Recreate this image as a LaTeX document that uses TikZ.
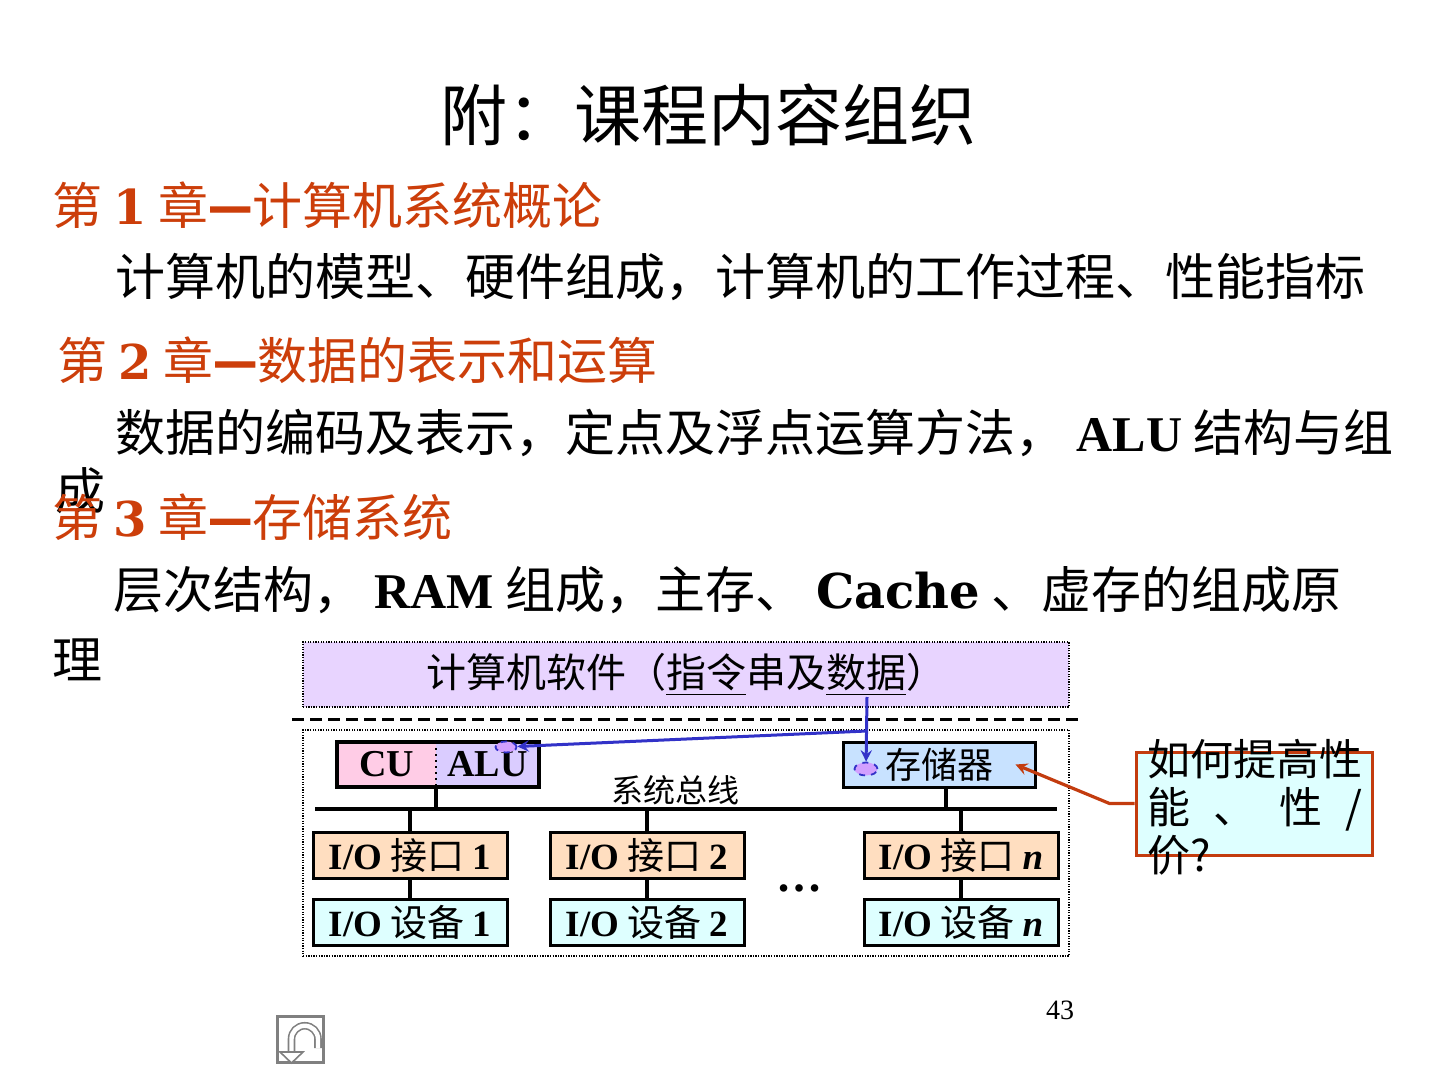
\documentclass[tikz,border=0pt]{standalone}
\usepackage{fontspec}
\setmainfont{Noto Sans CJK SC}
\newfontfamily\lat{Liberation Serif}
\newfontfamily\djv{DejaVu Serif}
\usetikzlibrary{positioning, shapes.geometric, arrows}
\definecolor{chapred}{RGB}{204,62,10}
\definecolor{swfill}{RGB}{232,212,255}
\definecolor{cufill}{RGB}{255,204,230}
\definecolor{alufill}{RGB}{218,204,255}
\definecolor{memfill}{RGB}{200,226,255}
\definecolor{iofill}{RGB}{255,222,192}
\definecolor{devfill}{RGB}{222,255,255}
\definecolor{flowblue}{RGB}{50,50,200}
\definecolor{dotfill}{RGB}{210,160,255}
\definecolor{askred}{RGB}{195,60,15}
\definecolor{askfill}{RGB}{222,255,255}
\definecolor{icongray}{RGB}{128,128,128}
\newcommand{\en}[1]{{\lat\bfseries #1}}
\newcommand{\num}[1]{{\djv\bfseries\fontsize{24}{30}\selectfont #1}}
\newcommand{\chdash}{\raisebox{1.5pt}{\djv\bfseries\addfontfeature{FakeBold=2.5}\fontsize{22}{30}\selectfont —}}
\tikzstyle{heading} = [anchor=west, inner sep=0pt, text=chapred, font=\fontsize{25}{30}\selectfont]
\tikzstyle{body} = [anchor=west, inner sep=0pt, font=\fontsize{25}{30}\selectfont]
\tikzstyle{layer} = [rectangle, draw=black, line width=1.3pt, dash pattern=on 0.65pt off 0.65pt]
\tikzstyle{hwbox} = [rectangle, draw=black, line width=1.5pt, minimum width=97pt, minimum height=23pt, inner sep=2pt, font=\fontsize{18.5}{22}\selectfont]
\tikzstyle{iobox} = [hwbox, fill=iofill]
\tikzstyle{devbox} = [hwbox, fill=devfill]
\tikzstyle{cpuhalf} = [rectangle, minimum height=22.5pt, inner sep=0pt, outer sep=0pt, font=\fontsize{19}{22}\selectfont]
\tikzstyle{datadot} = [ellipse, draw=flowblue, dashed, line width=0.9pt, fill=dotfill, inner sep=0pt]
\tikzstyle{link} = [line width=1.6pt]
\tikzstyle{bus} = [line width=2.2pt]
\tikzstyle{flow} = [line width=1.5pt, ->, >=stealth, draw=flowblue]
\tikzstyle{askarrow} = [line width=1.6pt, ->, >=stealth, draw=askred]
\begin{document}
\begin{tikzpicture}[x=0.5pt, y=-0.5pt]
    \useasboundingbox (0,0) rectangle (1440,1080);
    \fill [white] (0,0) rectangle (1440,1080);
    % slide text
    \node (title) [inner sep=0pt, font=\fontsize{33.5}{40}\selectfont] at (708,115) {附：课程内容组织};
    \node (ch1) [heading] at (52,205) {第 \num{1} 章\chdash 计算机系统概论};
    \node (ch1text) [body] at (115,277) {计算机的模型、硬件组成，计算机的工作过程、性能指标};
    \node (ch2) [heading] at (57,360) {第 \num{2} 章\chdash 数据的表示和运算};
    \node (ch2text) [body] at (115,433) {数据的编码及表示，定点及浮点运算方法， \en{ALU} 结构与组};
    \node (ch2tail) [body] at (55,491) {成};
    \node (ch3) [heading] at (52,517) {第 \num{3} 章\chdash 存储系统};
    \node (ch3text) [body] at (113,590) {层次结构， \en{RAM} 组成，主存、 {\djv\bfseries\fontsize{24}{30}\selectfont Cache} 、虚存的组成原};
    \node (ch3tail) [body] at (52,660) {理};
    % software / hardware layers
    \node (software) [layer, fill=swfill, minimum width=383pt, minimum height=32.5pt, font=\fontsize{20}{22}\selectfont] at (686,674.5) {计算机软件（\underline{指令}串及\underline{数据}）};
    \draw [line width=1.5pt, dash pattern=on 6pt off 3pt] (292,719) -- (1080,719);
    \node (hardware) [layer, minimum width=383pt, minimum height=113pt] at (686,843) {};
    % CPU and memory
    \node (cu) [cpuhalf, fill=cufill, minimum width=49.5pt] at (386.5,764.5) {\en{CU}};
    \node (alu) [cpuhalf, fill=alufill, minimum width=51.5pt, right=0pt of cu] {\en{ALU}};
    \draw [link] (cu.north west) rectangle (alu.south east);
    \draw [dotted, line width=1pt] (cu.north east) -- (cu.south east);
    \node (mem) [hwbox, fill=memfill, minimum width=96pt, minimum height=22.5pt, font=\fontsize{18}{22}\selectfont] at (939,764.5) {存储器};
    \node (aludot) [datadot, minimum width=10.5pt, minimum height=5.5pt] at (506,747) {};
    \node (memdot) [datadot, minimum width=11.5pt, minimum height=6.5pt] at (866,769) {};
    \coordinate (datasrc) at (867,697);
    \coordinate (fork) at (867,731);
    \draw [flow] (datasrc) -- (memdot);
    \draw [flow] (fork) -- (aludot);
    % system bus
    \coordinate (busl) at (315,809);
    \coordinate (busr) at (1057,809);
    \draw [bus] (busl) -- (busr);
    \node (buslabel) [inner sep=0pt, font=\fontsize{16}{20}\selectfont] at (675,790) {系统总线};
    \draw [link] (cu.south east) -- (cu.south east |- busl);
    \draw [link] ([xshift=3.5pt]mem.south) -- ([xshift=3.5pt]mem.south |- busl);
    % I/O
    \node (io1) [iobox] at (410,855.5) {\en{I/O} 接口 \en{1}};
    \node (io2) [iobox] at (647,855.5) {\en{I/O} 接口 \en{2}};
    \node (ion) [iobox] at (961,855.5) {\en{I/O} 接口 {\lat\bfseries\itshape n}};
    \node (dev1) [devbox, below=9pt of io1] {\en{I/O} 设备 \en{1}};
    \node (dev2) [devbox, below=9pt of io2] {\en{I/O} 设备 \en{2}};
    \node (devn) [devbox, below=9pt of ion] {\en{I/O} 设备 {\lat\bfseries\itshape n}};
    \foreach \i in {1,2,n} {
        \draw [link] (io\i) -- (io\i |- busl);
        \draw [link] (io\i) -- (dev\i);
    }
    \node (more) [inner sep=0pt, font=\lat\bfseries\fontsize{23}{26}\selectfont] at (799,888) {…};
    % callout
    \node (askbox) [rectangle, draw=askred, line width=1.5pt, fill=askfill, minimum width=118pt, minimum height=51.5pt] at (1254,803.5) {};
    \node (asktext) [anchor=north west, inner sep=0pt, align=left, font=\fontsize{21.5}{24}\selectfont] at (1147,739) {如何提高性\\\hbox to 107.5pt{能\hfill 、\hfill 性\hfill /}\\价?};
    \draw [askarrow] (askbox.west) -- ++(-12.5pt,0) -- ([xshift=-10.5pt]mem.east);
    % page number and return icon
    \node (pageno) [inner sep=0pt, font=\lat\fontsize{14}{16}\selectfont] at (1060,1010) {43};
    \draw [icongray, line width=1.5pt] (277,1016) rectangle (323,1062);
    \draw [icongray, line width=0.8pt, double=white, double distance=2.2pt] (318,1048) -- (318,1039) arc [start angle=0, end angle=180, radius=6.625pt] -- (291.5,1052);
    \filldraw [icongray, fill=white, line width=0.8pt] (280,1052) -- (303,1052) -- (291.5,1063) -- cycle;
\end{tikzpicture}
\end{document}
